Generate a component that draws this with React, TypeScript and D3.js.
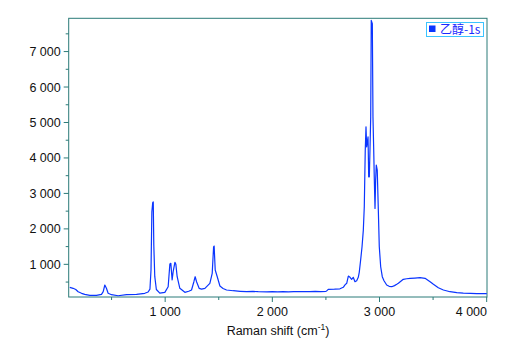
import { useEffect, useRef } from 'react';
import * as d3 from 'd3';

// Raman spectrum
const ramanShift = [
  110, 141, 166, 188, 220, 250, 297, 359, 406, 422, 437, 452, 468, 499, 561, 640, 733, 810, 841, 858,
  868, 876, 884, 889, 894, 903, 918, 950, 997, 1028, 1044, 1053, 1065, 1075, 1091, 1100, 1112, 1137, 1184, 1220,
  1246, 1268, 1280, 1293, 1317, 1340, 1371, 1417, 1439, 1452, 1457, 1467, 1486, 1511, 1540, 1573, 1635, 1700, 1760, 1820,
  1868, 1950, 2000, 2050, 2100, 2150, 2200, 2250, 2300, 2350, 2400, 2450, 2500, 2507, 2522, 2580, 2631, 2662, 2678, 2694,
  2709, 2725, 2740, 2755, 2771, 2787, 2802, 2811, 2824, 2837, 2849, 2858, 2867, 2874, 2880, 2893, 2899, 2905, 2911, 2918,
  2923, 2933, 2939, 2946, 2951, 2958, 2964, 2970, 2979, 2989, 2998, 3011, 3026, 3042, 3067, 3090, 3114, 3140, 3161, 3176,
  3222, 3254, 3285, 3330, 3378, 3425, 3472, 3503, 3549, 3596, 3658, 3721, 3782, 3850, 3907, 3960, 4001,
];
const intensity = [
  352, 324, 290, 228, 183, 155, 127, 127, 155, 230, 417, 324, 183, 144, 115, 144, 155, 183, 220, 300,
  840, 2480, 2740, 2760, 1550, 660, 290, 190, 211, 369, 1008, 1028, 560, 800, 1056, 1000, 651, 324, 211, 240,
  276, 510, 651, 510, 324, 300, 324, 465, 746, 1496, 1515, 839, 651, 389, 320, 276, 256, 240, 228, 235,
  228, 222, 230, 225, 232, 226, 230, 228, 234, 230, 236, 232, 240, 250, 296, 300, 310, 352, 420, 465,
  670, 634, 577, 634, 510, 538, 634, 775, 1121, 1496, 1966, 2623, 4220, 4876, 4313, 4594, 3468, 3468, 4220, 5158,
  7880, 7789, 5158, 4220, 3468, 2578, 3375, 3797, 3656, 2530, 1496, 932, 651, 538, 417, 380, 369, 400, 437, 465,
  577, 594, 606, 614, 623, 606, 510, 437, 340, 276, 228, 200, 188, 180, 172, 172, 172,
];

const xTicks = [1000, 2000, 3000, 4000];
const xMinorTicks = [500, 1500, 2500, 3500];
const yTicks = [1000, 2000, 3000, 4000, 5000, 6000, 7000];
const yMinorTicks = [500, 1500, 2500, 3500, 4500, 5500, 6500, 7500];
const seriesName = '乙醇-1s';

const WIDTH = 521;
const HEIGHT = 363;
const AXIS_COLOR = '#2b7b78';
const LINE_COLOR = '#0a35ff';
const FONT = 'Arial, "Liberation Sans", sans-serif';

export default function App() {
  const svgRef = useRef<SVGSVGElement>(null);

  useEffect(() => {
    if (!svgRef.current) return;
    const svg = d3.select(svgRef.current);
    svg.selectAll('*').remove();

    const left = 68.7, right = 487, top = 18.3, bottom = 297;

    const x = d3.scaleLinear().domain([100, 4003]).range([left, right]);
    const y = d3.scaleLinear().domain([79, 7938]).range([bottom, top]);

    const fmt = d3.formatLocale({ decimal: '.', thousands: ' ', grouping: [3], currency: ['', ''] }).format(',');

    // frame
    svg.append('rect')
      .attr('x', left).attr('y', top)
      .attr('width', right - left).attr('height', bottom - top)
      .attr('fill', 'none').attr('stroke', AXIS_COLOR).attr('stroke-width', 1);

    // x ticks
    const gx = svg.append('g');
    gx.selectAll('line.major').data(xTicks).join('line')
      .attr('x1', (d: number) => x(d)).attr('x2', (d: number) => x(d))
      .attr('y1', bottom).attr('y2', bottom + 5)
      .attr('stroke', AXIS_COLOR);
    gx.selectAll('line.minor').data(xMinorTicks).join('line')
      .attr('x1', (d: number) => x(d)).attr('x2', (d: number) => x(d))
      .attr('y1', bottom).attr('y2', bottom + 3)
      .attr('stroke', AXIS_COLOR);
    // the last label is pushed inside so it ends at the frame
    gx.selectAll('text').data(xTicks).join('text')
      .attr('x', (d: number, i: number) => (i === xTicks.length - 1 ? right : x(d)))
      .attr('y', bottom + 19)
      .attr('text-anchor', (d: number, i: number) => (i === xTicks.length - 1 ? 'end' : 'middle'))
      .style('font-family', FONT).style('font-size', '12.5px').style('fill', '#111')
      .text((d: number) => fmt(d));

    // y ticks
    const gy = svg.append('g');
    gy.selectAll('line.major').data(yTicks).join('line')
      .attr('x1', left - 5).attr('x2', left)
      .attr('y1', (d: number) => y(d)).attr('y2', (d: number) => y(d))
      .attr('stroke', AXIS_COLOR);
    gy.selectAll('line.minor').data(yMinorTicks).join('line')
      .attr('x1', left - 3).attr('x2', left)
      .attr('y1', (d: number) => y(d)).attr('y2', (d: number) => y(d))
      .attr('stroke', AXIS_COLOR);
    gy.selectAll('text').data(yTicks).join('text')
      .attr('x', left - 8).attr('y', (d: number) => y(d)).attr('dy', '0.36em')
      .attr('text-anchor', 'end')
      .style('font-family', FONT).style('font-size', '12.5px').style('fill', '#111')
      .text((d: number) => fmt(d));

    // x title
    const title = svg.append('text')
      .attr('x', 278).attr('y', 335).attr('text-anchor', 'middle')
      .style('font-family', FONT).style('font-size', '12.5px').style('fill', '#111');
    title.append('tspan').text('Raman shift (cm');
    title.append('tspan').attr('dy', -5).style('font-size', '8.5px').text('-1');
    title.append('tspan').attr('dy', 5).text(')');

    // spectrum
    const pts = ramanShift.map((d, i) => [d, intensity[i]] as [number, number]);
    svg.append('path')
      .datum(pts)
      .attr('fill', 'none')
      .attr('stroke', LINE_COLOR)
      .attr('stroke-width', 1.2)
      .attr('stroke-linejoin', 'round')
      .attr('d', d3.line<[number, number]>().x((d) => x(d[0])).y((d) => y(d[1])));

    // legend
    const lg = svg.append('g');
    lg.append('rect')
      .attr('x', 426.5).attr('y', 22.5).attr('width', 57).attr('height', 14)
      .attr('fill', '#fff').attr('stroke', '#3cc4ff').attr('stroke-width', 1);
    lg.append('rect')
      .attr('x', 429).attr('y', 25.5).attr('width', 6.5).attr('height', 6.5)
      .attr('fill', LINE_COLOR);
    lg.append('text')
      .attr('x', 440).attr('y', 33.5)
      .style('font-family', '"Noto Sans CJK SC", Arial, sans-serif').style('font-size', '12px')
      .style('fill', '#1a2aff')
      .text(seriesName);
  }, []);

  return (
    <svg
      ref={svgRef}
      width={WIDTH}
      height={HEIGHT}
      style={{ position: 'absolute', left: 0, top: 0, background: '#fff' }}
    />
  );
}
